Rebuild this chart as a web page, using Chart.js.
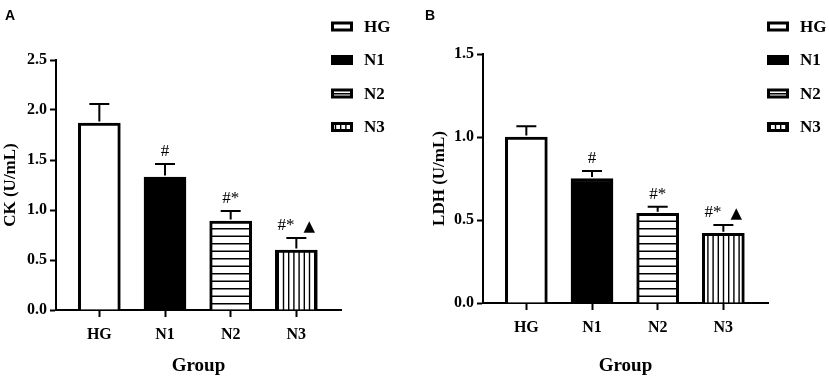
<!DOCTYPE html>
<html><head><meta charset="utf-8">
<script src="https://cdn.jsdelivr.net/npm/chart.js@4"></script>
<style>
html,body{margin:0;padding:0;background:#fff;}
#wrap{position:relative;width:829px;height:382px;overflow:hidden;background:#fff;}
.panel{position:absolute;top:0;height:382px;}
#pa{left:0;width:414px;}
#pb{left:414px;width:415px;}
</style></head><body>
<div id="wrap">
  <div class="panel" id="pa"><canvas id="ca"></canvas></div>
  <div class="panel" id="pb"><canvas id="cb"></canvas></div>
</div>
<script>
// ---------- data ----------
const categories = ['HG', 'N1', 'N2', 'N3'];
const ckMeans   = [1.87, 1.33, 0.89, 0.60];
const ckErrors  = [0.19, 0.13, 0.10, 0.12];
const ldhMeans  = [1.00, 0.75, 0.54, 0.42];
const ldhErrors = [0.065, 0.045, 0.04, 0.05];
const sigLabels = ['', '#', '#*', '#*\u25B2'];
const ckTicks  = [0, 0.5, 1.0, 1.5, 2.0, 2.5];
const ldhTicks = [0, 0.5, 1.0, 1.5];

// ---------- fills ----------
function stripePattern(kind) {
  const c = document.createElement('canvas');
  const g = c.getContext('2d');
  if (kind === 'h') {
    c.width = 8; c.height = 15;
    g.fillStyle = '#fff'; g.fillRect(0, 0, c.width, c.height);
    g.fillStyle = '#000';
    g.fillRect(0, 3, 8, 1.5);
    g.fillRect(0, 10.5, 8, 1.5);
  } else {
    c.width = 26; c.height = 8;
    g.fillStyle = '#fff'; g.fillRect(0, 0, c.width, c.height);
    g.fillStyle = '#000';
    for (let i = 0; i < 5; i++) g.fillRect(2 + i * 5.2, 0, 1.4, 8);
  }
  return g.createPattern(c, 'repeat');
}
const fills = ['#ffffff', '#000000', stripePattern('h'), stripePattern('v')];

const serif = '"Liberation Serif", "Times New Roman", serif';

// ---------- plugin: error bars, significance marks, legend, panel letter ----------
const extras = {
  id: 'extras',
  afterDatasetsDraw(chart, args, o) {
    const ctx = chart.ctx;
    const xs = chart.scales.x, ys = chart.scales.y;
    ctx.save();
    ctx.strokeStyle = '#000';
    ctx.fillStyle = '#000';
    ctx.lineWidth = 2;
    o.means.forEach((m, i) => {
      const cx = xs.getPixelForValue(i);
      const y0 = ys.getPixelForValue(m);
      const y1 = ys.getPixelForValue(m + o.errors[i]);
      ctx.beginPath();
      ctx.moveTo(cx, y0 - 1.5); ctx.lineTo(cx, y1);
      ctx.moveTo(cx - 10, y1); ctx.lineTo(cx + 10, y1);
      ctx.stroke();
      const s = sigLabels[i];
      if (s) {
        const base = y1 - 8;
        const tri = s.endsWith('\u25B2');
        const main = tri ? s.slice(0, -1) : s;
        ctx.font = '17px ' + serif;
        ctx.textBaseline = 'alphabetic';
        const wMain = ctx.measureText(main).width;
        let wTri = 0, gap = 0;
        if (tri) {
          ctx.font = '15px "DejaVu Sans"';
          wTri = ctx.measureText('\u25B2').width;
          gap = 9;
        }
        const start = cx - (wMain + gap + wTri) / 2;
        ctx.textAlign = 'left';
        ctx.font = '17px ' + serif;
        ctx.fillText(main, start, base);
        if (tri) {
          ctx.font = '15px "DejaVu Sans"';
          ctx.fillText('\u25B2', start + wMain + gap, base + 1);
        }
      }
    });
    // legend
    const ly = [26.5, 60, 93.5, 127];
    categories.forEach((c, i) => {
      const bx = o.legendX, by = ly[i] - 5;
      ctx.fillStyle = '#000';
      ctx.fillRect(bx, by, 22, 10);
      ctx.fillStyle = fills[i];
      if (i !== 1) ctx.fillRect(bx + 3, by + 3, 16, 4);
      ctx.fillStyle = '#000';
      ctx.font = 'bold 17px ' + serif;
      ctx.textAlign = 'left';
      ctx.textBaseline = 'middle';
      ctx.fillText(c, o.legendX + 33, ly[i] + 1);
    });
    // panel letter
    ctx.font = 'bold 14px "Liberation Sans", Arial, sans-serif';
    ctx.textAlign = 'left';
    ctx.textBaseline = 'alphabetic';
    ctx.fillText(o.letter, o.letterX, 19.5);
    ctx.restore();
  }
};

function makeChart(id, cfg) {
  const tickFont = { family: serif, size: 16, weight: 'bold' };
  return new Chart(document.getElementById(id), {
    type: 'bar',
    data: {
      datasets: [{
        data: cfg.means.map((v, i) => ({ x: i, y: v })),
        backgroundColor: fills,
        borderColor: '#000',
        borderWidth: 3,
        barThickness: 42,
        grouped: false
      }]
    },
    options: {
      responsive: true,
      maintainAspectRatio: false,
      animation: false,
      events: [],
      layout: { padding: cfg.padding },
      plugins: {
        legend: { display: false },
        tooltip: { enabled: false },
        extras: { means: cfg.means, errors: cfg.errors, legendX: cfg.legendX, letter: cfg.letter, letterX: cfg.letterX }
      },
      scales: {
        x: {
          type: 'linear',
          offset: false,
          min: -0.66, max: 3.68,
          afterBuildTicks: s => { s.ticks = categories.map((c, i) => ({ value: i })); },
          ticks: { callback: v => categories[v], autoSkip: false, maxRotation: 0, font: tickFont, color: '#000', padding: 8 },
          grid: { offset: false, drawOnChartArea: false, drawTicks: true, tickLength: 7, tickWidth: 2, tickColor: '#000' },
          border: { display: true, color: '#000', width: 2 },
          title: { display: true, text: 'Group', color: '#000', font: { family: serif, size: 19, weight: 'bold' }, padding: { top: 0, bottom: 5 } },
          afterFit: s => { s.height = cfg.xHeight; }
        },
        y: {
          min: 0, max: cfg.ticks[cfg.ticks.length - 1],
          afterBuildTicks: s => { s.ticks = cfg.ticks.map(v => ({ value: v })); },
          ticks: { callback: v => v.toFixed(1), font: tickFont, color: '#000', padding: 3 },
          grid: { drawOnChartArea: false, drawTicks: true, tickLength: 6, tickWidth: 2, tickColor: '#000' },
          border: { display: true, color: '#000', width: 2 },
          title: { display: true, text: cfg.yTitle, color: '#000', font: { family: serif, size: 17, weight: 'bold' }, padding: 0 },
          afterFit: s => { s.width = cfg.yWidth; }
        }
      }
    },
    plugins: [extras]
  });
}

makeChart('ca', {
  means: ckMeans, errors: ckErrors, ticks: ckTicks, yTitle: 'CK (U/mL)',
  padding: { left: 0, top: 60, right: 73, bottom: 0 },
  yWidth: 56, xHeight: 72, legendX: 331, letter: 'A', letterX: 5
});
makeChart('cb', {
  means: ldhMeans, errors: ldhErrors, ticks: ldhTicks, yTitle: 'LDH (U/mL)',
  padding: { left: 15, top: 54, right: 61, bottom: 0 },
  yWidth: 54, xHeight: 79, legendX: 353, letter: 'B', letterX: 11
});
</script>
</body></html>
